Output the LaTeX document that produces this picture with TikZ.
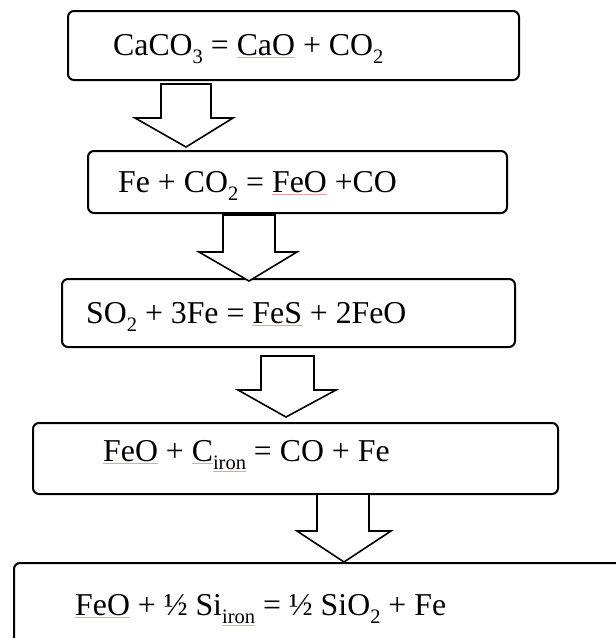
\documentclass[tikz,border=0pt]{standalone}
\usepackage{fontspec}
\setmainfont{Liberation Serif}
\definecolor{sqcol}{RGB}{240,160,160}
\newsavebox{\sqbox}
\newcommand{\lowsub}[1]{\raisebox{-0.26em}{\fontsize{20.5}{20.5}\selectfont #1}}
\newcommand{\sq}[1]{\sbox{\sqbox}{#1}\rlap{\textcolor{sqcol}{\rule[-0.09em]{\wd\sqbox}{0.5pt}}}\usebox{\sqbox}}
\begin{document}
\begin{tikzpicture}[x=1pt,y=-1pt,
  box/.style={draw=black,line width=2pt,rounded corners=6pt},
  barrow/.style={draw=black,line width=1.6pt,fill=white,line join=miter},
  eq/.style={anchor=base west,inner sep=0pt,font=\fontsize{31.8}{31.8}\selectfont}]
\clip (0,0) rectangle (616,638);
\fill[white] (0,0) rectangle (616,638);
% boxes
\draw[box] (68,11) rectangle (519,80);
\draw[box] (88,151) rectangle (507,213);
\draw[box] (62,279) rectangle (515,347);
\draw[box] (33,423) rectangle (558,494);
\draw[box] (14,563) rectangle (680,700);
% block arrows
\draw[barrow] (161,84) -- (211,84) -- (211,118) -- (233,118) -- (186,147) -- (135,118) -- (161,118) -- cycle;
\draw[barrow] (223,215) -- (275,215) -- (275,252) -- (297,252) -- (249,281) -- (199,252) -- (223,252) -- cycle;
\draw[barrow] (261,356) -- (314,356) -- (314,390) -- (336,390) -- (286,417) -- (238,390) -- (261,390) -- cycle;
\draw[barrow] (317,494) -- (369,494) -- (369,531) -- (391,531) -- (344,562) -- (297,531) -- (317,531) -- cycle;
% equations
\node[eq] (t1) at (113,55) {CaCO\lowsub{3} = \sq{CaO} + CO\lowsub{2}};
\node[eq] (t2) at (118,192) {Fe + CO\lowsub{2} = \sq{FeO} +CO};
\node[eq] (t3) at (86,323) {SO\lowsub{2} + 3Fe = \sq{FeS} + 2FeO};
\node[eq] (t4) at (103,461) {\sq{FeO} + \sq{C}\lowsub{\sq{iron}} = CO + Fe};
\node[eq] (t5) at (75,615) {\sq{FeO} + ½ Si\lowsub{\sq{iron}} = ½ SiO\lowsub{2} + Fe};
\end{tikzpicture}
\end{document}
